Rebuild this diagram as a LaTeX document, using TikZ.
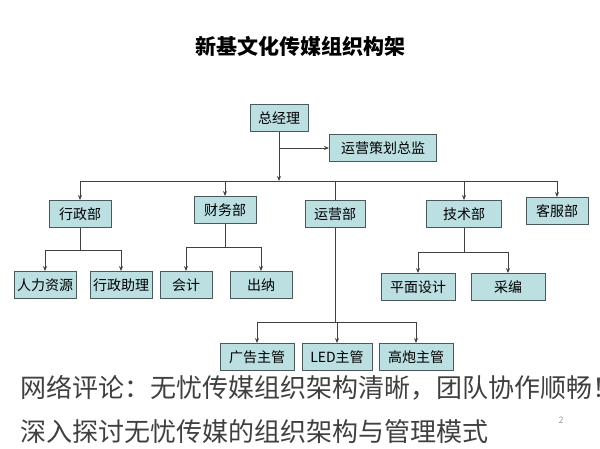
\documentclass[tikz,border=0pt]{standalone}
\usepackage{fontspec}
\setmainfont{Noto Sans CJK SC}
\newfontfamily\cjk{Noto Sans CJK SC}
\usetikzlibrary{arrows.meta}
\definecolor{boxfill}{HTML}{BCDFE2}
\definecolor{boxline}{HTML}{4A5A5C}
\tikzset{
  unit/.style={draw=boxline, fill=boxfill, line width=0.9pt, minimum height=27pt, inner sep=1pt, font=\fontsize{14}{14}\selectfont},
  link/.style={draw=black!75, line width=0.8pt},
  arr/.style={link, -{Stealth[length=5pt,width=4pt]}}
}
\begin{document}
\begin{tikzpicture}[x=1pt,y=-1pt]
    \useasboundingbox (0,0) rectangle (600,449);
    \node[font=\fontsize{21}{21}\selectfont\bfseries] at (300,46) (title) {新基文化传媒组织构架};
    \node[unit, minimum width=58pt] at (279,118) (gm) {总经理};
    \node[unit, minimum width=107pt] at (383,148) (dir) {运营策划总监};
    \node[unit, minimum width=62pt] at (80,214) (admin) {行政部};
    \node[unit, minimum width=62pt] at (225,210) (fin) {财务部};
    \node[unit, minimum width=60pt] at (335,214) (ops) {运营部};
    \node[unit, minimum width=75pt] at (464,214) (tech) {技术部};
    \node[unit, minimum width=62pt] at (557,211) (cs) {客服部};
    \node[unit, minimum width=62pt] at (45,285) (hr) {人力资源};
    \node[unit, minimum width=62pt] at (121,285) (aa) {行政助理};
    \node[unit, minimum width=52pt] at (186,285) (acc) {会计};
    \node[unit, minimum width=62pt] at (261,285) (cash) {出纳};
    \node[unit, minimum width=74pt] at (418,287) (gd) {平面设计};
    \node[unit, minimum width=74pt] at (508,287) (ed) {采编};
    \node[unit, minimum width=74pt] at (257,357) (ad) {广告主管};
    \node[unit, minimum width=70pt] at (337,357) (led) {LED主管};
    \node[unit, minimum width=74pt] at (416,357) (bb) {高炮主管};
    % top level
    \coordinate (bus) at (gm.south |- 0,181);
    \draw[arr] (gm.south) -- (bus);
    \draw[arr] (gm.south |- dir.west) -- (dir.west);
    \draw[link] (admin.north |- bus) -- (cs.north |- bus);
    \foreach \d in {admin,fin,tech,cs}
      \draw[arr] (\d.north |- bus) -- (\d.north);
    \draw[link] (ops.north |- bus) -- (ops.north);
    % departments
    \foreach \p/\a/\b/\y in {admin/hr/aa/250, fin/acc/cash/247, tech/gd/ed/252}
    {
      \draw[link] (\p.south) -- (\p.south |- 0,\y);
      \draw[link] (\a.north |- 0,\y) -- (\b.north |- 0,\y);
      \draw[arr] (\a.north |- 0,\y) -- (\a.north);
      \draw[arr] (\b.north |- 0,\y) -- (\b.north);
    }
    \draw[link] (ops.south) -- (ops.south |- 0,322);
    \draw[link] (ad.north |- 0,322) -- (bb.north |- 0,322);
    \foreach \c in {ad,led,bb}
      \draw[arr] (\c.north |- 0,322) -- (\c.north);
    % caption
    \node[anchor=west, text=black!75, font=\fontsize{26}{26}\selectfont, inner sep=0] at (20,388) (cap1) {网络评论：无忧传媒组织架构清晰，团队协作顺畅！};
    \node[anchor=west, text=black!75, font=\fontsize{26}{26}\selectfont, inner sep=0] at (20,432) (cap2) {深入探讨无忧传媒的组织架构与管理模式};
    \node[text=black!40, font=\fontsize{9}{9}\selectfont] at (561,420) (pg) {2};
\end{tikzpicture}
\end{document}
